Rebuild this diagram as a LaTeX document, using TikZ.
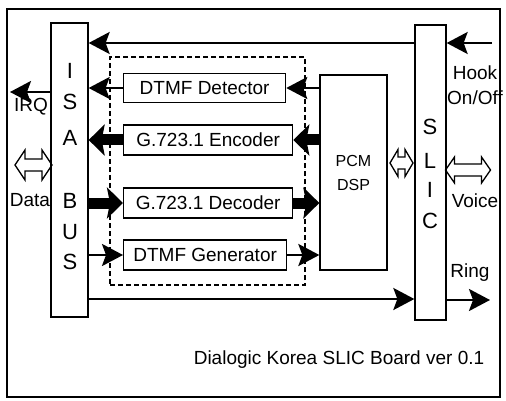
\documentclass[tikz,border=0pt]{standalone}
\usepackage{fontspec}
\setmainfont{Liberation Sans}
\usetikzlibrary{arrows.meta}

\begin{document}
\begin{tikzpicture}[x=1pt, y=-1pt,
        frame/.style={draw, line width=1.4pt, rectangle, inner sep=0pt},
        bus/.style={draw, line width=1.3pt, rectangle, inner sep=0pt},
        unit/.style={draw, line width=1.3pt, rectangle, inner sep=0pt, anchor=west, font=\fontsize{19}{20}\selectfont},
        group/.style={draw, line width=1.6pt, dash pattern=on 5pt off 3pt, rectangle, inner sep=0pt},
        letter/.style={inner sep=0pt, font=\fontsize{22}{22}\selectfont},
        lbl/.style={inner sep=0pt, font=\fontsize{19}{25}\selectfont, align=center},
        sig/.style={line width=2.4pt, -{Stealth[length=21pt 0 0, width=22pt 0, inset=4pt 0]}},
        bulk/.style={line width=11pt, -{Stealth[length=16pt 0 0, width=31pt 0, inset=3pt 0]}},
        pics/dblarrow/.style n args={4}{code={
            \draw [line width=1.3pt] (-#1,0) -- (-#1+#4,-#2) -- (-#1+#4,-#3) -- (#1-#4,-#3) -- (#1-#4,-#2) -- (#1,0)
                -- (#1-#4,#2) -- (#1-#4,#3) -- (-#1+#4,#3) -- (-#1+#4,#2) -- cycle;}}]

        \useasboundingbox (0,0) rectangle (506,401);
        \node [frame, minimum width=493pt, minimum height=388pt] (board) at (253.5,203) {};

        % ISA bus and SLIC
        \node [bus, minimum width=37pt, minimum height=294pt] (isa) at (69.5,170) {};
        \foreach \ch/\yy in {I/71, S/102, A/138, B/201, U/232, S/262}
            \node [letter] (isa\yy) at (70,\yy) {\ch};
        \node [bus, minimum width=31pt, minimum height=295pt] (slic) at (430.5,172.5) {};
        \foreach \ch/\yy in {S/127, L/161, I/190, C/221}
            \node [letter] (slic\yy) at (430,\yy) {\ch};

        % codec group
        \node [group, minimum width=195pt, minimum height=228pt] (codec) at (207.5,171) {};
        \node [unit, minimum width=162pt, minimum height=29pt] (det) at (123,88) {DTMF Detector};
        \node [unit, minimum width=169pt, minimum height=30pt] (enc) at (123,140) {G.723.1 Encoder};
        \node [unit, minimum width=169pt, minimum height=30pt] (dec) at (123,203) {G.723.1 Decoder};
        \node [unit, minimum width=163pt, minimum height=30pt] (gen) at (123,255) {DTMF Generator};
        \node [bus, minimum width=67pt, minimum height=195pt, align=center, font=\fontsize{16}{24}\selectfont] (dsp) at (353.5,172.5) {PCM\\DSP};

        % labels
        \node [lbl] (hooklbl) at (475,85) {Hook\\On/Off};
        \node [lbl] (irqlbl) at (31,107) {IRQ};
        \node [lbl] (datalbl) at (30,200) {Data};
        \node [lbl] (voicelbl) at (475,201) {Voice};
        \node [lbl] (ringlbl) at (470,273) {Ring};
        \node [lbl, font=\fontsize{19}{20}\selectfont] (title) at (339,360) {Dialogic Korea SLIC Board ver 0.1};

        % free ends
        \coordinate (top) at (0,43);
        \coordinate (hook) at (492,43);
        \coordinate (irq) at (10,92);
        \coordinate (low) at (0,299);
        \coordinate (ring) at (490,300);

        \draw [sig] (slic.west |- top) -- (isa.east |- top);
        \draw [sig] (hook) -- (hook -| slic.east);
        \draw [sig] (isa.west |- irq) -- (irq);
        \draw [sig] (dsp.west |- det.east) -- (det.east);
        \draw [sig] (det.west) -- (det.west -| isa.east);
        \draw [bulk] (dsp.west |- enc.east) -- (enc.east);
        \draw [bulk] (enc.west) -- (enc.west -| isa.east);
        \draw [bulk] (isa.east |- dec.west) -- (dec.west);
        \draw [bulk] (dec.east) -- (dec.east -| dsp.west);
        \draw [sig] (isa.east |- gen.west) -- (gen.west);
        \draw [sig] (gen.east) -- (gen.east -| dsp.west);
        \draw [sig] (isa.east |- low) -- (slic.west |- low);
        \draw [sig] (slic.east |- ring) -- (ring);

        % hollow double arrows
        \pic (dataarrow) at (33.5,165) {dblarrow={18.5}{15}{6}{10}};
        \pic (pcmarrow) at (401.5,163) {dblarrow={11.5}{13.5}{6}{8}};
        \pic (voicearrow) at (468,170) {dblarrow={22.5}{13}{6}{9}};
    \end{tikzpicture}
\end{document}
